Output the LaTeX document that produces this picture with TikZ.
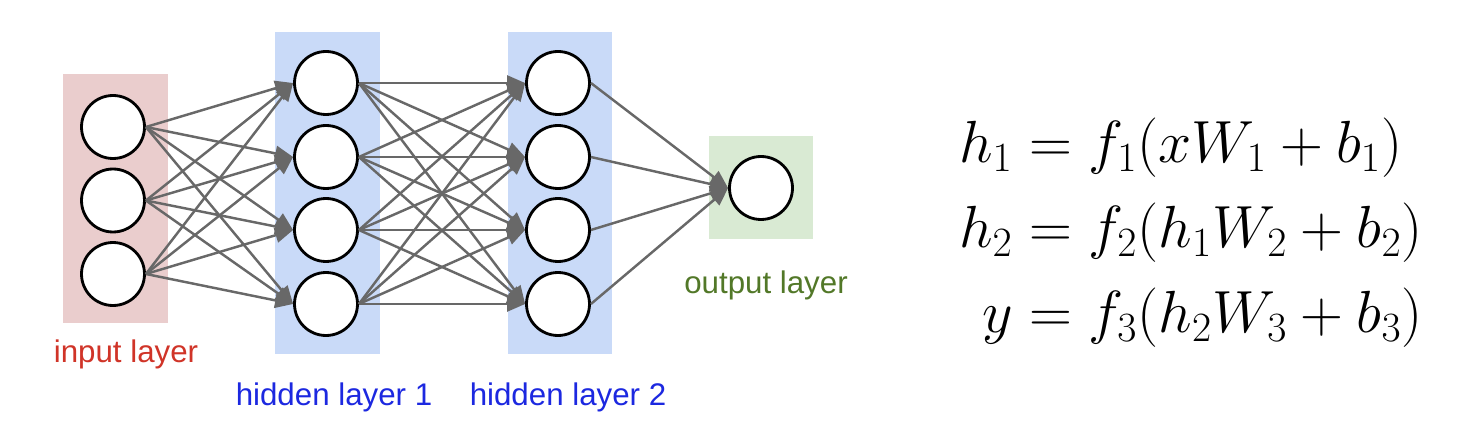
\documentclass[tikz,border=0pt]{standalone}
\usepackage{fix-cm}
\usepackage{amsmath}
\usepackage{fontspec}
\setsansfont{Liberation Sans}
\usetikzlibrary{arrows.meta, positioning}
\definecolor{inbg}{RGB}{234,205,205}
\definecolor{hidbg}{RGB}{201,218,248}
\definecolor{outbg}{RGB}{217,234,211}
\definecolor{intext}{RGB}{208,52,40}
\definecolor{hidtext}{RGB}{28,40,224}
\definecolor{outtext}{RGB}{82,120,40}
\definecolor{linkgray}{RGB}{104,104,104}
\tikzset{
neuron/.style={circle, draw=black, line width=1.6pt, fill=white, minimum size=1.26cm, inner sep=0pt}, % one unit
link/.style={draw=linkgray, line width=1.4pt, -{Triangle[length=0.36cm,width=0.3cm]}}, % weighted connection
lbl/.style={font=\sffamily\fontsize{17.8pt}{20pt}\selectfont, anchor=base, inner sep=0pt}, % layer names
}

\begin{document}
\begin{tikzpicture}[x=0.02cm, y=-0.02cm]
  \useasboundingbox (0,0) rectangle (1470,432);

  % Layer bands
  \fill[inbg] (63,74) rectangle (168,323);
  \fill[hidbg] (275,32) rectangle (380,354);
  \fill[hidbg] (508,32) rectangle (612,354);
  \fill[outbg] (709,136) rectangle (813,239);

  % Units
  \foreach \y [count=\i] in {127,200.5,274}
    \node[neuron] (in\i) at (113,\y) {};
  \foreach \y [count=\i] in {83,157,230,304}
  {
    \node[neuron] (ha\i) at (326,\y) {};
    \node[neuron] (hb\i) at (558,\y) {};
  }
  \node[neuron] (out) at (761,188) {};

  % Connections
  \foreach \i in {1,2,3}
    \foreach \j in {1,...,4}
      \draw[link] (in\i.east) -- (ha\j.west);
  \foreach \i in {1,...,4}
    \foreach \j in {1,...,4}
      \draw[link] (ha\i.east) -- (hb\j.west);
  \foreach \i in {1,...,4}
    \draw[link] (hb\i.east) -- (out.west);

  % Layer names
  \node[lbl, text=intext] (inlbl) at (126,362) {input layer};
  \node[lbl, text=hidtext] (halbl) at (334,405) {hidden layer 1};
  \node[lbl, text=hidtext] (hblbl) at (568,405) {hidden layer 2};
  \node[lbl, text=outtext] (outlbl) at (766,293) {output layer};

  % Equations
  \node[scale=1.24] (eqs) at (1191,232) {\fontsize{27.3pt}{36pt}\selectfont
    $\begin{aligned}
      h_1 &= f_1(xW_1+b_1)\\
      h_2 &= f_2(h_1W_2+b_2)\\
      y &= f_3(h_2W_3+b_3)
    \end{aligned}$};
\end{tikzpicture}
\end{document}
